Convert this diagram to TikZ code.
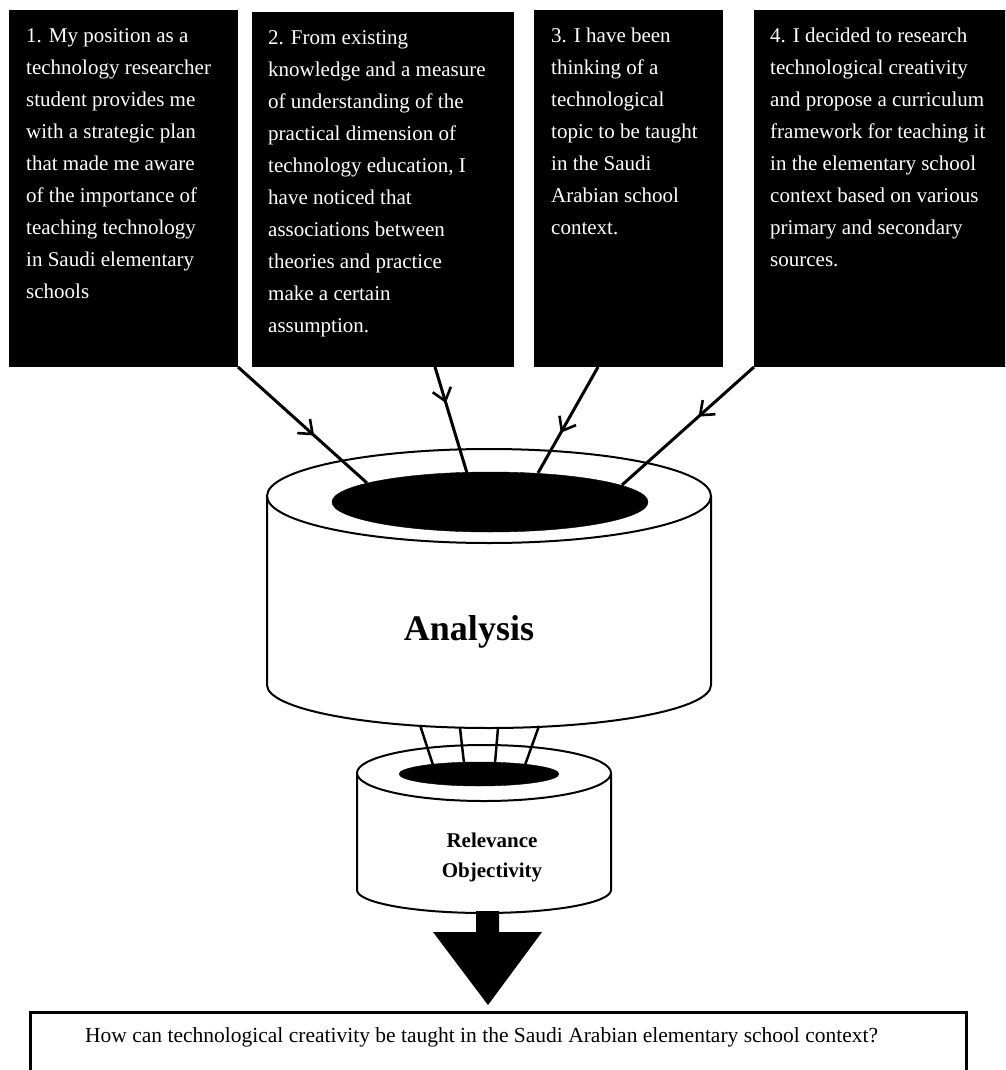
\documentclass[tikz,border=0pt]{standalone}
\usepackage{fontspec}
\setmainfont{Liberation Serif}
\usetikzlibrary{arrows.meta,decorations.markings,shapes.geometric,calc}
\tikzset{
  infobox/.style={draw=black, fill=black, line width=1pt, inner sep=0pt, anchor=north west},
  infotext/.style={anchor=base west, inner sep=0pt, text=white, font=\fontsize{21}{32}\selectfont},
  feed/.style={line width=3pt},
  midhead/.style={postaction={decorate}, decoration={markings, mark=at position #1 with {\arrow[line width=2.6pt]{Straight Barb[length=12pt,width=19pt]}}}},
  cyl/.style={draw=black, line width=2pt, fill=white},
  hole/.style={ellipse, fill=black, draw=black, inner sep=0pt},
  link/.style={line width=2.5pt},
}
\begin{document}
\begin{tikzpicture}[x=1pt,y=-1pt]
\useasboundingbox (0,0) rectangle (1005,1070);
\clip (0,0) rectangle (1005,1070);

% source boxes
\node[infobox, minimum width=228pt, minimum height=356pt] (b1) at (9,10) {};
\node[infobox, minimum width=261pt, minimum height=354pt] (b2) at (252,12) {};
\node[infobox, minimum width=188pt, minimum height=356pt] (b3) at (534,10) {};
\node[infobox, minimum width=270pt, minimum height=356pt] (b4) at (754,10) {};

\node[infotext] (t1) at (26,43) {\begin{tabular}[t]{@{}l@{}}1. My position as a\\technology researcher\\student provides me\\with a strategic plan\\that made me aware\\of the importance of\\teaching technology\\in Saudi elementary\\schools\end{tabular}};
\node[infotext] (t2) at (268,45) {\begin{tabular}[t]{@{}l@{}}2. From existing\\knowledge and a measure\\of understanding of the\\practical dimension of\\technology education, I\\have noticed that\\associations between\\theories and practice\\make a certain\\assumption.\end{tabular}};
\node[infotext] (t3) at (551,43) {\begin{tabular}[t]{@{}l@{}}3. I have been\\thinking of a\\technological\\topic to be taught\\in the Saudi\\Arabian school\\context.\end{tabular}};
\node[infotext] (t4) at (770,43) {\begin{tabular}[t]{@{}l@{}}4. I decided to research\\technological creativity\\and propose a curriculum\\framework for teaching it\\in the elementary school\\context based on various\\primary and secondary\\sources.\end{tabular}};

% big cylinder
\draw[cyl] (267,496) -- (267,685) arc[start angle=180,end angle=360,x radius=222pt,y radius=43pt] -- (711,496);
\draw[cyl] (489,496) ellipse[x radius=222pt, y radius=47pt];

\coordinate (s2) at ($(b2.south west)+(183,0)$);
\coordinate (s3) at ($(b3.south west)+(64,0)$);
\coordinate (e1) at (367,483);
\coordinate (e2) at (467,473);
\coordinate (e3) at (538,473);
\coordinate (e4) at (622,485);
\draw[feed, midhead=0.59] (b1.south east) -- (e1);
\draw[feed, midhead=0.34] (s2) -- (e2);
\draw[feed, midhead=0.62] (s3) -- (e3);
\draw[feed, midhead=0.42] (b4.south west) -- (e4);

\node[hole, minimum width=316pt, minimum height=60pt] (h1) at (490,502) {};
\node[anchor=base, inner sep=0pt, font=\bfseries\fontsize{36}{40}\selectfont] (analysis) at (469,640) {Analysis};

% small cylinder
\draw[cyl] (357,773) -- (357,890) arc[start angle=180,end angle=360,x radius=127pt,y radius=23pt] -- (611,773);
\draw[cyl] (484,773) ellipse[x radius=127pt, y radius=28pt];

\coordinate (c1) at (420,725);
\coordinate (c2) at (460,728);
\coordinate (c3) at (498,728);
\coordinate (c4) at (539,726);
\coordinate (d1) at (433,765);
\coordinate (d2) at (464,763);
\coordinate (d3) at (495,763);
\coordinate (d4) at (525,765);
\draw[link] (c1) -- (d1);
\draw[link] (c2) -- (d2);
\draw[link] (c3) -- (d3);
\draw[link] (c4) -- (d4);

\node[hole, minimum width=160pt, minimum height=24pt] (h2) at (479,774) {};
\node[anchor=base, inner sep=0pt, font=\bfseries\fontsize{21}{30}\selectfont] (rel) at (492,847) {\begin{tabular}[t]{@{}c@{}}Relevance\\Objectivity\end{tabular}};

% block arrow
\fill[black] (476,911) -- (476,932) -- (433,932) -- (488,1005) -- (542,932) -- (499,932) -- (499,911) -- cycle;

% question box
\node[draw=black, line width=2.5pt, minimum width=936pt, minimum height=80pt, anchor=north west, inner sep=0pt] (q) at (29,1011) {};
\node[anchor=base west, inner sep=0pt, font=\fontsize{21.5}{25}\selectfont] (qt) at (85,1042) {How can technological creativity be taught in the Saudi Arabian elementary school context?};
\end{tikzpicture}
\end{document}
